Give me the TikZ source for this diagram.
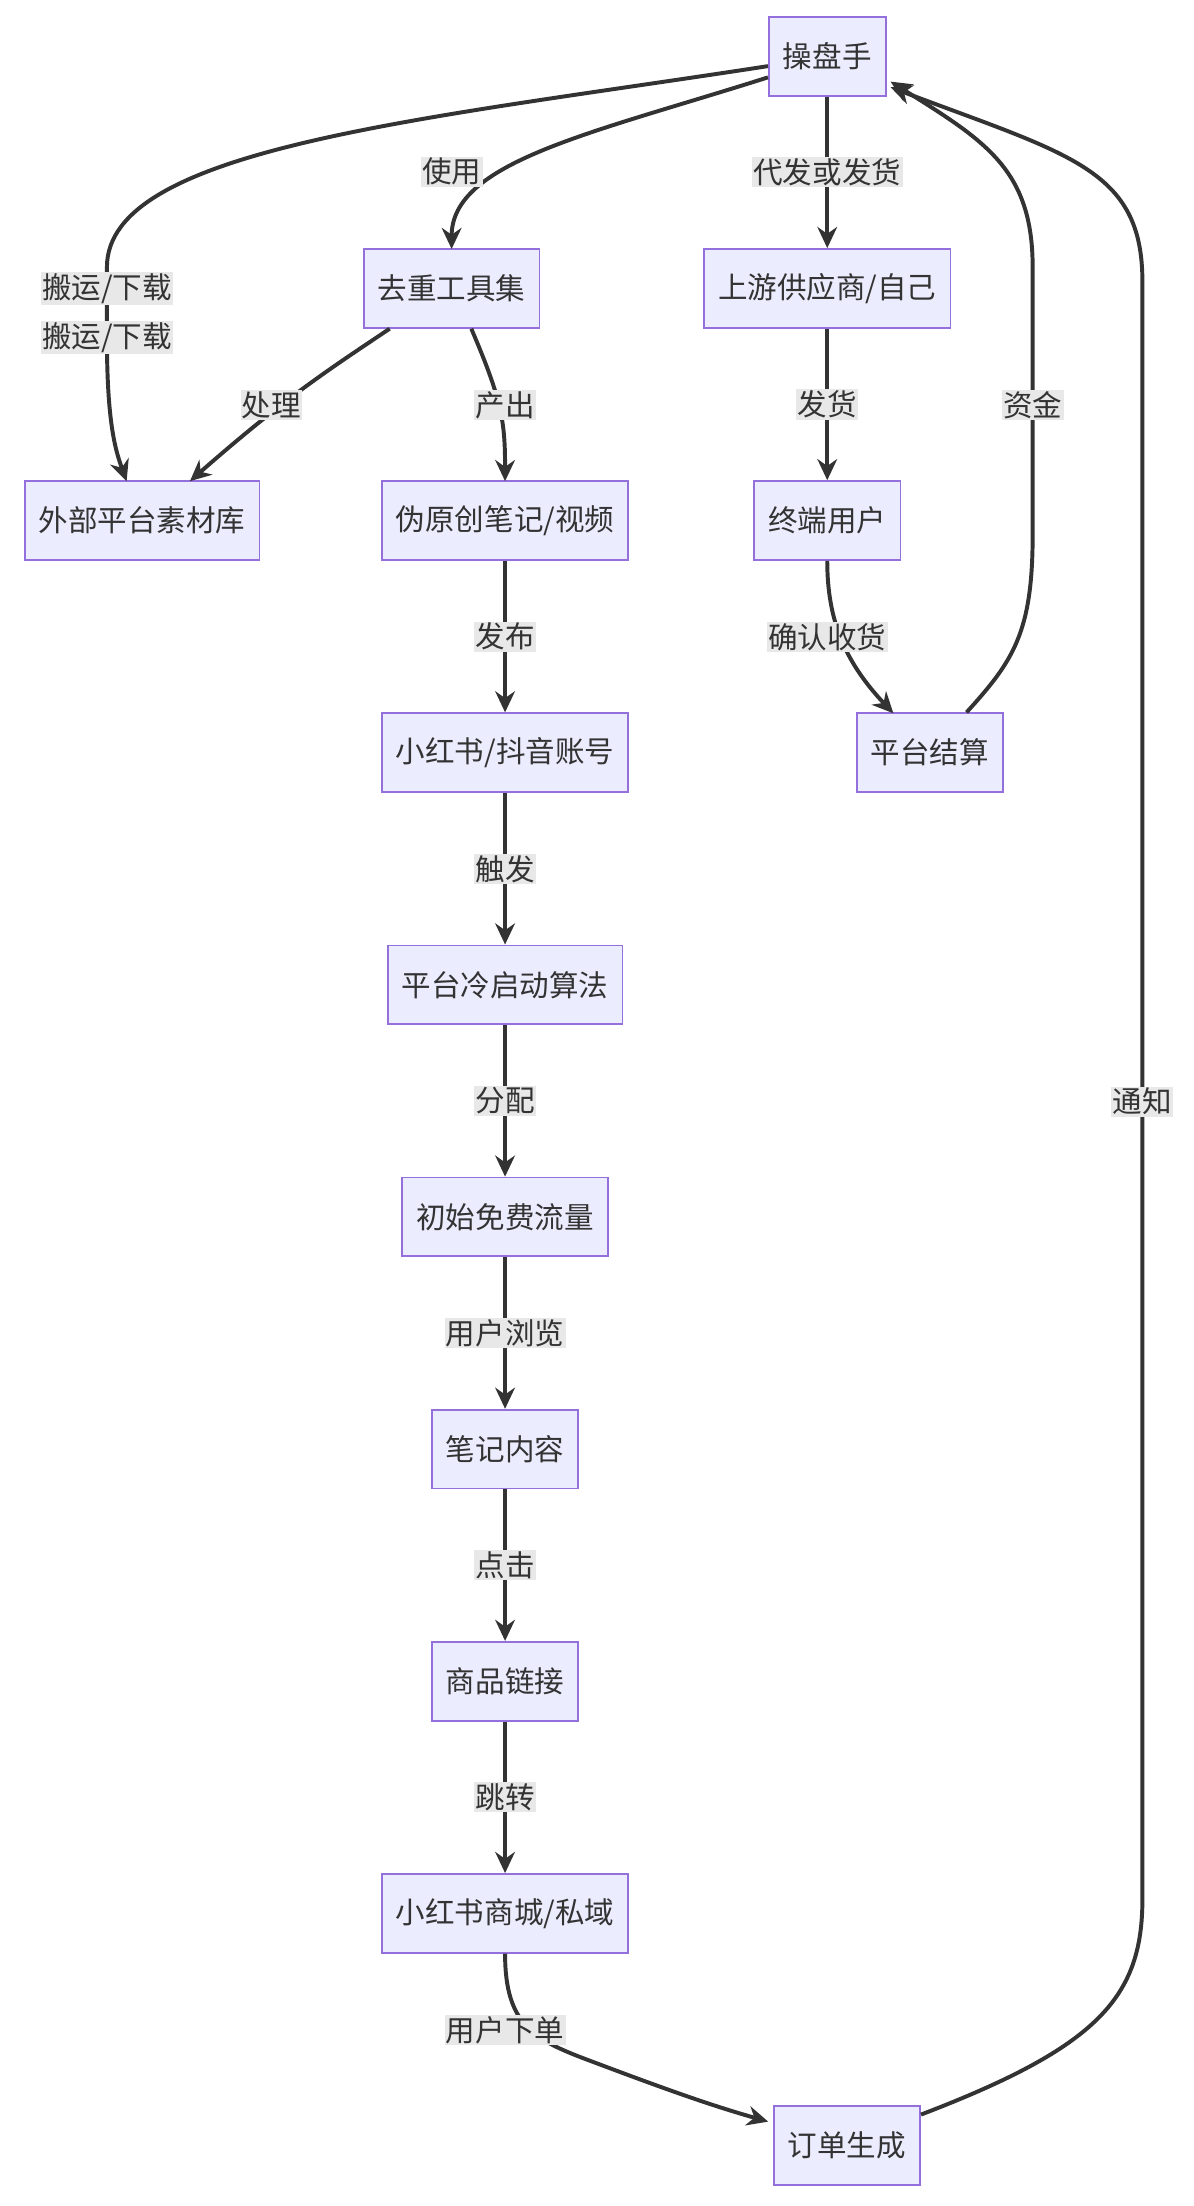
\documentclass[tikz,border=0pt]{standalone}
\usepackage{fontspec}
\setmainfont{Noto Sans CJK SC}
\usetikzlibrary{arrows.meta}
\definecolor{nfill}{HTML}{ECECFF}
\definecolor{nborder}{HTML}{9370DB}
\definecolor{edgec}{HTML}{333333}
\definecolor{lbg}{HTML}{E8E8E8}
\begin{document}
\begin{tikzpicture}[x=1pt,y=-1pt,
  box/.style={draw=nborder,fill=nfill,line width=1.3pt,minimum height=56pt,inner xsep=10pt,font=\fontsize{21}{24}\selectfont,text=edgec},
  edge/.style={draw=edgec,line width=2.8pt,-{Stealth[length=15pt,width=14pt]}},
  lab/.style={fill=lbg,inner sep=1pt,font=\fontsize{21}{24}\selectfont,text=edgec}]
\useasboundingbox (0,0) rectangle (848,1568);
\node[box] (op) at (588,40) {操盘手};
\node[box] (dd) at (321,205) {去重工具集};
\node[box] (up) at (588,205) {上游供应商/自己};
\node[box] (ext) at (101,370) {外部平台素材库};
\node[box] (fake) at (359,370) {伪原创笔记/视频};
\node[box] (end) at (588,370) {终端用户};
\node[box] (set) at (661,535) {平台结算};
\node[box] (acc) at (359,535) {小红书/抖音账号};
\node[box] (alg) at (359,700) {平台冷启动算法};
\node[box] (flow) at (359,865) {初始免费流量};
\node[box] (note) at (359,1030) {笔记内容};
\node[box] (link) at (359,1195) {商品链接};
\node[box] (mall) at (359,1360) {小红书商城/私域};
\node[box] (ord) at (602,1525) {订单生成};

\draw[edge] (op.west|-0,47) .. controls (300,85) and (76,105) .. (76,190) -- (76,240) .. controls (76,300) and (82,320) .. (90,342) node[pos=0,lab] at (76,205) {搬运/下载};
\node[lab] at (76,205) {搬运/下载};
\draw[edge] (op.west|-0,55) .. controls (420,95) and (321,115) .. (321,177);
\node[lab] at (321,122) {使用};
\draw[edge] (op) -- (up) node[midway,lab] {代发或发货};
\draw[edge] (dd.south -| 277,0) .. controls (230,265) and (200,285) .. (135,342);
\node[lab] at (193,288) {处理};
\draw[edge] (dd.south -| 335,0) .. controls (357,285) and (359,300) .. (359,342);
\node[lab] at (359,288) {产出};
\draw[edge] (up) -- (end) node[midway,lab] {发货};
\draw[edge] (end.south) .. controls (588,440) and (600,470) .. (635,507);
\node[lab] at (588,453) {确认收货};
\draw[edge] (set.north -| 687,0) .. controls (720,470) and (734,450) .. (734,380) -- (734,190) .. controls (734,120) and (700,100) .. (633,58);
\node[lab] at (734,288) {资金};
\draw[edge] (fake) -- (acc) node[midway,lab] {发布};
\draw[edge] (acc) -- (alg) node[midway,lab] {触发};
\draw[edge] (alg) -- (flow) node[midway,lab] {分配};
\draw[edge] (flow) -- (note) node[midway,lab] {用户浏览};
\draw[edge] (note) -- (link) node[midway,lab] {点击};
\draw[edge] (link) -- (mall) node[midway,lab] {跳转};
\draw[edge] (mall.south) .. controls (359,1440) and (380,1450) .. (420,1465) .. controls (460,1480) and (500,1495) .. (546,1508);
\node[lab] at (359,1443) {用户下单};
\draw[edge] (ord.east|-0,1503) .. controls (780,1455) and (812,1420) .. (812,1350) -- (812,200) .. controls (812,120) and (760,110) .. (633,62);
\node[lab] at (812,783) {通知};
\end{tikzpicture}
\end{document}
